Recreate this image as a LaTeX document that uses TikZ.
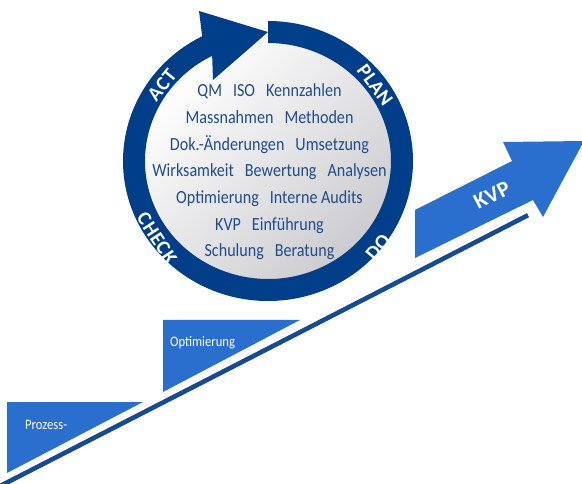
\documentclass[tikz,border=0pt]{standalone}
\usepackage{fontspec}
\usetikzlibrary{calc}
\newfontfamily\cf[FakeStretch=0.87]{Carlito}
\newfontfamily\rf[LetterSpace=3]{Carlito}
\definecolor{ringblue}{RGB}{0,62,138}
\definecolor{txtblue}{RGB}{30,76,140}
\definecolor{lightblue}{RGB}{42,111,206}
\definecolor{lineblue}{RGB}{22,74,145}
\definecolor{discgray}{RGB}{204,204,208}
\newcommand\wgap{\hspace{11pt}}
\tikzset{
  lst/.style={font=\cf\fontsize{18.5}{18.5}\selectfont, text=txtblue, anchor=base, inner sep=0pt},
  rlab/.style={font=\rf\bfseries\fontsize{20}{20}\selectfont, text=white, inner sep=0pt},
  steplab/.style={font=\cf\fontsize{14.5}{14.5}\selectfont, text=white, anchor=base west, inner sep=0pt},
  stepshape/.style={fill=lightblue},
}
\begin{document}
\begin{tikzpicture}[x=1pt,y=-1pt]
\useasboundingbox (0,0) rectangle (582,484);
\coordinate (c) at (268,161);
% disc
\shade[top color=white, bottom color=discgray, shading angle=45] (c) ellipse [x radius=125, y radius=120];
% ring with arrow head
\fill[ringblue] ($(c)+(-90:145 and 140)$) arc[start angle=-90,end angle=243,x radius=145,y radius=140]
  -- (199,11) -- (268,32) -- (213,80)
  -- ($(c)+(243:123 and 118)$) arc[start angle=243,end angle=-90,x radius=123,y radius=118] -- cycle;
% ring labels
\node[rlab, rotate=-54] (plan) at (375,85) {PLAN};
\node[rlab, rotate=50] (do) at (378,247) {DO};
\node[rlab, rotate=-57] (check) at (157,238) {CHECK};
\node[rlab, rotate=51] (act) at (162,85) {ACT};
% disc text
\node[lst] (t1) at (269.5,97) {QM\wgap ISO\wgap Kennzahlen};
\node[lst] (t2) at (269.5,123.7) {Massnahmen\wgap Methoden};
\node[lst] (t3) at (269.5,150.4) {Dok.-Änderungen\wgap Umsetzung};
\node[lst] (t4) at (269.5,177) {Wirksamkeit\wgap Bewertung\wgap Analysen};
\node[lst] (t5) at (269.5,203.8) {Optimierung\wgap Interne Audits};
\node[lst] (t6) at (269.5,230.5) {KVP\wgap Einführung};
\node[lst] (t7) at (269.5,257) {Schulung\wgap Beratung};
% stairs
\fill[stepshape] (7,402) -- (143,402) -- (7,473) -- cycle;
\fill[stepshape] (163,320) -- (300,320) -- (163,392) -- cycle;
\fill[stepshape] (415,258) -- (415,210) -- (512,161) -- (503,142) -- (584,141) -- (543,217) -- (533,200) -- cycle;
\node[steplab] (s1) at (25,429) {Prozess-};
\node[steplab] (s2) at (170,347) {Optimierung};
\node[rlab, font=\rf\bfseries\fontsize{22}{22}\selectfont, rotate=27] (kvp) at (492,195) {KVP};
% base line
\coordinate (la) at (0,486.1);
\coordinate (lb) at (528,215.2);
\draw[lineblue, line width=4.6pt] (la) -- (lb);
\end{tikzpicture}
\end{document}
